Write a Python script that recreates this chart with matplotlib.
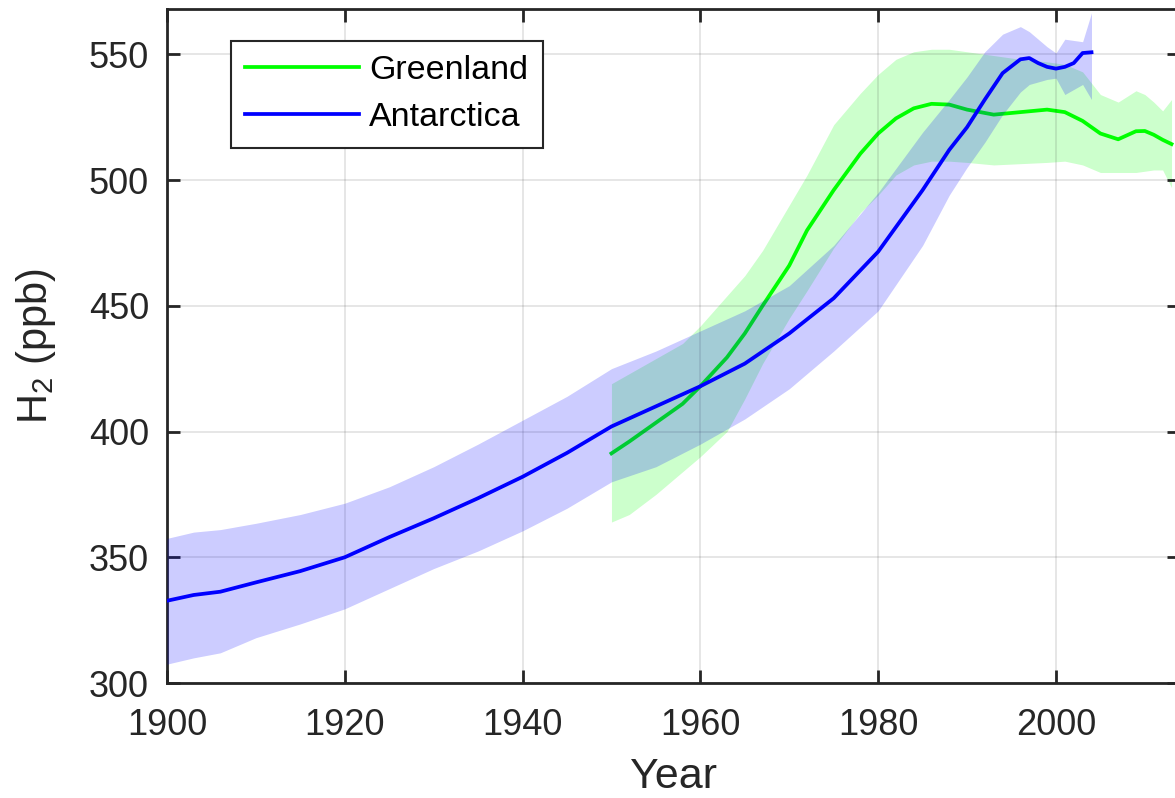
import matplotlib
matplotlib.use("Agg")
import matplotlib.pyplot as plt

plt.rcParams['font.family'] = ['Liberation Sans', 'DejaVu Sans']
plt.rcParams['mathtext.default'] = 'regular'

# Antarctica firn air reconstruction
ant_years = [1900, 1903, 1906, 1910, 1915, 1920, 1925, 1930, 1935, 1940, 1945,
             1950, 1955, 1960, 1965, 1970, 1975, 1980, 1985, 1988, 1990, 1992,
             1994, 1996, 1997, 1998, 1999, 2000, 2001, 2002, 2003, 2004]
ant_mid = [332.7, 335, 336.3, 340, 344.5, 350, 358, 365.5, 373.5, 382, 391.5,
           402, 410, 418, 427, 439, 453, 471.5, 496, 512, 521, 532,
           542.5, 548, 548.5, 546.5, 545, 544.3, 545, 546.5, 550.5, 550.8]
ant_hi = [357.5, 360, 361, 363.5, 367, 371.5, 378, 386, 395, 404.5, 414,
          425, 432, 440, 448, 458, 474, 495, 519, 532, 541, 551,
          558, 561, 559, 556, 553, 550.5, 556, 555.5, 555, 566.5]
ant_lo = [307.5, 310, 312, 318, 323.5, 329.5, 337.5, 345.5, 352.5, 360.5, 369.5,
          380, 386, 395, 405, 417, 432, 448, 474, 494, 505, 515,
          526, 535, 538, 539, 540, 540.5, 534, 536, 538, 532]

# Greenland firn air reconstruction
grl_years = [1950, 1952, 1955, 1958, 1960, 1963, 1965, 1967, 1970, 1972, 1975,
             1978, 1980, 1982, 1984, 1986, 1988, 1990, 1993, 1996, 1999, 2001,
             2003, 2005, 2007, 2009, 2010, 2011, 2012, 2013]
grl_mid = [391.3, 396, 403.5, 411, 418, 429.5, 439, 450, 466, 480, 496,
           510.5, 518.5, 524.5, 528.5, 530.3, 530, 528, 526, 527, 528, 527,
           523.5, 518.5, 516.2, 519.4, 519.5, 518, 516, 514.3]
grl_hi = [419, 423, 429, 435, 442, 454, 462, 472, 490, 502, 522,
          534.5, 542, 548, 551, 552, 552, 551, 549.5, 548, 547, 546,
          543, 534, 531, 535.5, 534, 531, 527.5, 532]
grl_lo = [364, 367, 375, 384, 390, 400, 413, 427, 445, 456, 473,
          487, 494, 502, 506, 507.5, 507.5, 507, 506, 506.5, 507, 507.5,
          506, 503, 503, 503, 503.5, 504, 504, 497]

dark = (0.15, 0.15, 0.15)

fig = plt.figure(figsize=(11.75, 7.98), dpi=100)
ax = fig.add_axes([0.1421, 0.1441, 0.8625, 0.8446])

ax.fill_between(grl_years, grl_lo, grl_hi, color=(0, 1, 0), alpha=0.2,
                linewidth=0, zorder=1)
ax.plot(grl_years, grl_mid, color=(0, 1, 0), lw=2.7, label='Greenland', zorder=2)
ax.fill_between(ant_years, ant_lo, ant_hi, color=(0, 0, 1), alpha=0.2,
                linewidth=0, zorder=3)
ax.plot(ant_years, ant_mid, color=(0, 0, 1), lw=2.7, label='Antarctica', zorder=4)

ax.set_xlim(1900, 2014)
ax.set_ylim(300, 568)
ax.set_xticks([1900, 1920, 1940, 1960, 1980, 2000])
ax.set_yticks([300, 350, 400, 450, 500, 550])
ax.grid(True, color=dark, alpha=0.15, lw=1.1)
ax.set_axisbelow(False)

for s in ax.spines.values():
    s.set_color(dark)
    s.set_linewidth(2)
ax.tick_params(direction='in', length=9.5, width=2, color=dark,
               labelcolor=dark, labelsize=26, top=True, right=True)
ax.tick_params(axis='x', pad=18)
ax.tick_params(axis='y', pad=13)

ax.set_xlabel('Year', fontsize=31, color=dark, labelpad=10)
ax.set_ylabel('H$_2$ (ppb)', fontsize=30, color=dark, labelpad=22)

leg = ax.legend(loc='upper left', bbox_to_anchor=(0.063, 0.953), borderaxespad=0,
                fontsize=24.5, handlelength=3.35, handletextpad=0.3,
                labelspacing=0.48, borderpad=0.42, fancybox=False, framealpha=1,
                edgecolor=dark)
leg.get_frame().set_linewidth(1.5)

fig.savefig('out.png', dpi=100)
